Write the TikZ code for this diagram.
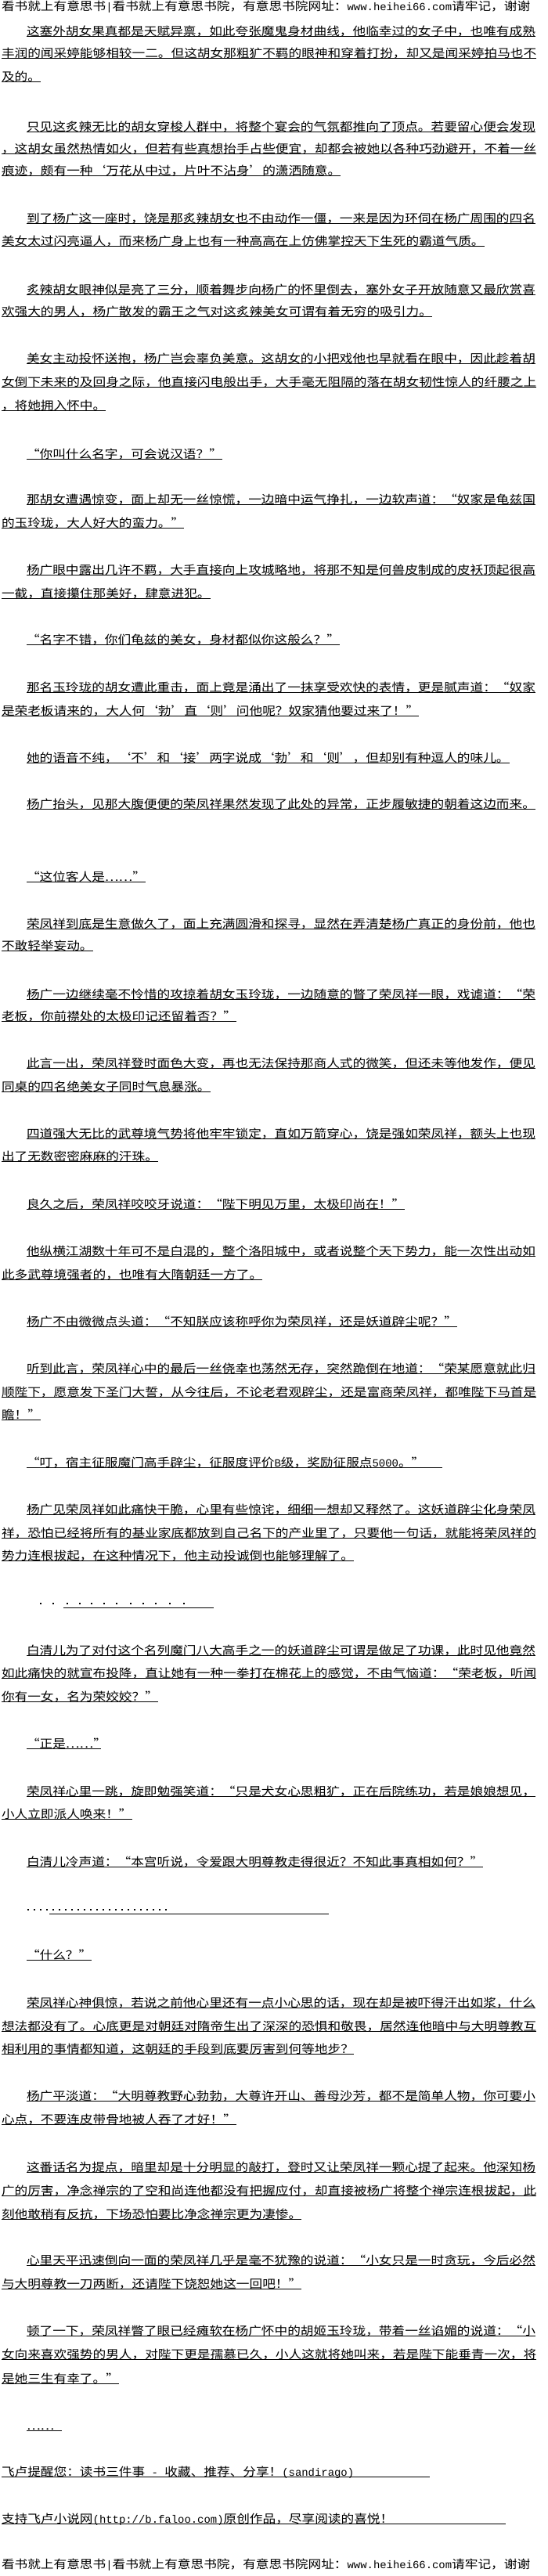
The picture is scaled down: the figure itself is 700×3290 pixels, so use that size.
\documentclass[tikz,border=0pt]{standalone}
\usepackage{fontspec}
\setmainfont{Noto Sans CJK SC}[FakeStretch=1.126,RawFeature=+fwid]
\newfontfamily\latf{Liberation Mono}[Scale=0.94]
\newcommand\lat[1]{{\latf #1}}
\tikzset{
  txt/.style={anchor=base west,inner sep=0pt,outer sep=0pt,text=black,font=\fontsize{14.8}{14.8}\selectfont},
  ul/.style={line width=1pt,black},
  dotm/.style={fill=black,draw=none}
}
% #1 name, #2 x, #3 y (text centre), #4 text
\newcommand\txl[4]{\node[txt] (#1) at (#2,#3+5.5) {#4};
  \draw[ul] ([yshift=-0.8pt]#1.base west) -- ([yshift=-0.8pt]#1.base east);}
% same with underline running to x = #5
\newcommand\txle[5]{\node[txt] (#1) at (#2,#3+5.5) {#4};
  \coordinate (#1e) at (#5,#3+6.3);
  \draw[ul] ([yshift=-0.8pt]#1.base west) -- (#1e);}
\begin{document}
\begin{tikzpicture}[x=1pt,y=-1pt]
\fill[white] (0,0) rectangle (700,3290);
\useasboundingbox (0,0) rectangle (700,3290);

\node[txt] (hd) at (2,8+5.5) {看书就上有意思书\lat{|}看书就上有意思书院，有意思书院网址：\lat{www.heihei66.com}请牢记，谢谢};

\txl{a1}{34}{40}{这塞外胡女果真都是天赋异禀，如此夸张魔鬼身材曲线，他临幸过的女子中，也唯有成熟}
\txl{a2}{2}{68}{丰润的闻采婷能够相较一二。但这胡女那粗犷不羁的眼神和穿着打扮，却又是闻采婷拍马也不}
\txl{a3}{2}{98}{及的。}

\txl{b1}{34}{162}{只见这炙辣无比的胡女穿梭人群中，将整个宴会的气氛都推向了顶点。若要留心便会发现}
\txl{b2}{2}{190}{，这胡女虽然热情如火，但若有些真想抬手占些便宜，却都会被她以各种巧劲避开，不着一丝}
\txl{b3}{2}{218}{痕迹，颇有一种‘万花从中过，片叶不沾身’的潇洒随意。}

\txl{c1}{34}{279}{到了杨广这一座时，饶是那炙辣胡女也不由动作一僵，一来是因为环伺在杨广周围的四名}
\txl{c2}{2}{308}{美女太过闪亮逼人，而来杨广身上也有一种高高在上仿佛掌控天下生死的霸道气质。}

\txl{d1}{34}{370}{炙辣胡女眼神似是亮了三分，顺着舞步向杨广的怀里倒去，塞外女子开放随意又最欣赏喜}
\txl{d2}{2}{398}{欢强大的男人，杨广散发的霸王之气对这炙辣美女可谓有着无穷的吸引力。}

\txl{e1}{34}{458}{美女主动投怀送抱，杨广岂会辜负美意。这胡女的小把戏他也早就看在眼中，因此趁着胡}
\txl{e2}{2}{488}{女倒下未来的及回身之际，他直接闪电般出手，大手毫无阻隔的落在胡女韧性惊人的纤腰之上}
\txl{e3}{2}{518}{，将她拥入怀中。}

\txl{f1}{34}{580}{“你叫什么名字，可会说汉语？”}

\txl{g1}{34}{638}{那胡女遭遇惊变，面上却无一丝惊慌，一边暗中运气挣扎，一边软声道：“奴家是龟兹国}
\txl{g2}{2}{668}{的玉玲珑，大人好大的蛮力。”}

\txl{h1}{34}{728}{杨广眼中露出几许不羁，大手直接向上攻城略地，将那不知是何兽皮制成的皮袄顶起很高}
\txl{h2}{2}{758}{一截，直接攥住那美好，肆意进犯。}

\txl{i1}{34}{817}{“名字不错，你们龟兹的美女，身材都似你这般么？”}

\txl{j1}{34}{878}{那名玉玲珑的胡女遭此重击，面上竟是涌出了一抹享受欢快的表情，更是腻声道：“奴家}
\txl{j2}{2}{908}{是荣老板请来的，大人何‘勃’直‘则’问他呢？奴家猜他要过来了！”}

\txl{k1}{34}{968}{她的语音不纯，‘不’和‘接’两字说成‘勃’和‘则’，但却别有种逗人的味儿。}

\txl{l1}{34}{1027}{杨广抬头，见那大腹便便的荣凤祥果然发现了此处的异常，正步履敏捷的朝着这边而来。}

\txl{m1}{34}{1120}{“这位客人是……”}

\txl{n1}{34}{1180}{荣凤祥到底是生意做久了，面上充满圆滑和探寻，显然在弄清楚杨广真正的身份前，他也}
\txl{n2}{2}{1208}{不敢轻举妄动。}

\txl{o1}{34}{1270}{杨广一边继续毫不怜惜的攻掠着胡女玉玲珑，一边随意的瞥了荣凤祥一眼，戏谑道：“荣}
\txl{o2}{2}{1298}{老板，你前襟处的太极印记还留着否？”}

\txl{p1}{34}{1358}{此言一出，荣凤祥登时面色大变，再也无法保持那商人式的微笑，但还未等他发作，便见}
\txl{p2}{2}{1388}{同桌的四名绝美女子同时气息暴涨。}

\txl{q1}{34}{1448}{四道强大无比的武尊境气势将他牢牢锁定，直如万箭穿心，饶是强如荣凤祥，额头上也现}
\txl{q2}{2}{1477}{出了无数密密麻麻的汗珠。}

\txl{r1}{34}{1538}{良久之后，荣凤祥咬咬牙说道：“陛下明见万里，太极印尚在！”}

\txl{s1}{34}{1598}{他纵横江湖数十年可不是白混的，整个洛阳城中，或者说整个天下势力，能一次性出动如}
\txl{s2}{2}{1628}{此多武尊境强者的，也唯有大隋朝廷一方了。}

\txl{t1}{34}{1688}{杨广不由微微点头道：“不知朕应该称呼你为荣凤祥，还是妖道辟尘呢？”}

\txl{u1}{34}{1748}{听到此言，荣凤祥心中的最后一丝侥幸也荡然无存，突然跪倒在地道：“荣某愿意就此归}
\txl{u2}{2}{1778}{顺陛下，愿意发下圣门大誓，从今往后，不论老君观辟尘，还是富商荣凤祥，都唯陛下马首是}
\txl{u3}{2}{1807}{瞻！”}

\txle{v1}{34}{1868}{“叮，宿主征服魔门高手辟尘，征服度评价\lat{B}级，奖励征服点\lat{5000}。”}{565}

\txl{w1}{34}{1928}{杨广见荣凤祥如此痛快干脆，心里有些惊诧，细细一想却又释然了。这妖道辟尘化身荣凤}
\txl{w2}{2}{1958}{祥，恐怕已经将所有的基业家底都放到自己名下的产业里了，只要他一句话，就能将荣凤祥的}
\txl{w3}{2}{1987}{势力连根拔起，在这种情况下，他主动投诚倒也能够理解了。}

% dotted separator 1
\coordinate (da0) at (81,2053);
\coordinate (da1) at (273,2053);
\draw[ul] (da0) -- (da1);
\foreach \xx in {52,68,86,102,117,133,149,167,183,199,217,235}
  \fill[dotm] (\xx-1,2047) rectangle (\xx+1,2049);

\txl{x1}{34}{2108}{白清儿为了对付这个名列魔门八大高手之一的妖道辟尘可谓是做足了功课，此时见他竟然}
\txl{x2}{2}{2137}{如此痛快的就宣布投降，直让她有一种一拳打在棉花上的感觉，不由气恼道：“荣老板，听闻}
\txl{x3}{2}{2167}{你有一女，名为荣姣姣？”}

\txle{y1}{34}{2227}{“正是……”}{129}

\txl{z1}{34}{2288}{荣凤祥心里一跳，旋即勉强笑道：“只是犬女心思粗犷，正在后院练功，若是娘娘想见，}
\txl{z2}{2}{2317}{小人立即派人唤来！”}

\txl{aa1}{34}{2378}{白清儿冷声道：“本宫听说，令爱跟大明尊教走得很近？不知此事真相如何？”}

% dotted separator 2
\coordinate (db0) at (63,2444);
\coordinate (db1) at (420,2444);
\draw[ul] (db0) -- (db1);
\foreach \xx in {36,44,52,60,68,76,84,92,100,108,116,124,132,140,148,156,164,172,180,188,196,204,212}
  \fill[dotm] (\xx-1,2438) rectangle (\xx+1,2440);

\txl{ab1}{34}{2497}{“什么？”}

\txl{ac1}{34}{2558}{荣凤祥心神俱惊，若说之前他心里还有一点小心思的话，现在却是被吓得汗出如浆，什么}
\txl{ac2}{2}{2588}{想法都没有了。心底更是对朝廷对隋帝生出了深深的恐惧和敬畏，居然连他暗中与大明尊教互}
\txl{ac3}{2}{2617}{相利用的事情都知道，这朝廷的手段到底要厉害到何等地步？}

\txl{ad1}{34}{2677}{杨广平淡道：“大明尊教野心勃勃，大尊许开山、善母沙芳，都不是简单人物，你可要小}
\txl{ad2}{2}{2707}{心点，不要连皮带骨地被人吞了才好！”}

\txl{ae1}{34}{2768}{这番话名为提点，暗里却是十分明显的敲打，登时又让荣凤祥一颗心提了起来。他深知杨}
\txl{ae2}{2}{2798}{广的厉害，净念禅宗的了空和尚连他都没有把握应付，却直接被杨广将整个禅宗连根拔起，此}
\txl{ae3}{2}{2828}{刻他敢稍有反抗，下场恐怕要比净念禅宗更为凄惨。}

\txl{af1}{34}{2887}{心里天平迅速倒向一面的荣凤祥几乎是毫不犹豫的说道：“小女只是一时贪玩，今后必然}
\txl{af2}{2}{2917}{与大明尊教一刀两断，还请陛下饶恕她这一回吧！”}

\txl{ag1}{34}{2977}{顿了一下，荣凤祥瞥了眼已经瘫软在杨广怀中的胡姬玉玲珑，带着一丝谄媚的说道：“小}
\txl{ag2}{2}{3007}{女向来喜欢强势的男人，对陛下更是孺慕已久，小人这就将她叫来，若是陛下能垂青一次，将}
\txl{ag3}{2}{3038}{是她三生有幸了。”}

\txle{ah1}{34}{3098}{……}{79}

\txle{ai1}{2}{3157}{飞卢提醒您：读书三件事\lat{ - }收藏、推荐、分享！\lat{(sandirago)}}{549}

\txle{aj1}{2}{3217}{支持飞卢小说网\lat{(http://b.faloo.com)}原创作品，尽享阅读的喜悦！}{646}

\node[txt] (ft) at (2,3275+5.5) {看书就上有意思书\lat{|}看书就上有意思书院，有意思书院网址：\lat{www.heihei66.com}请牢记，谢谢};
\end{tikzpicture}
\end{document}
